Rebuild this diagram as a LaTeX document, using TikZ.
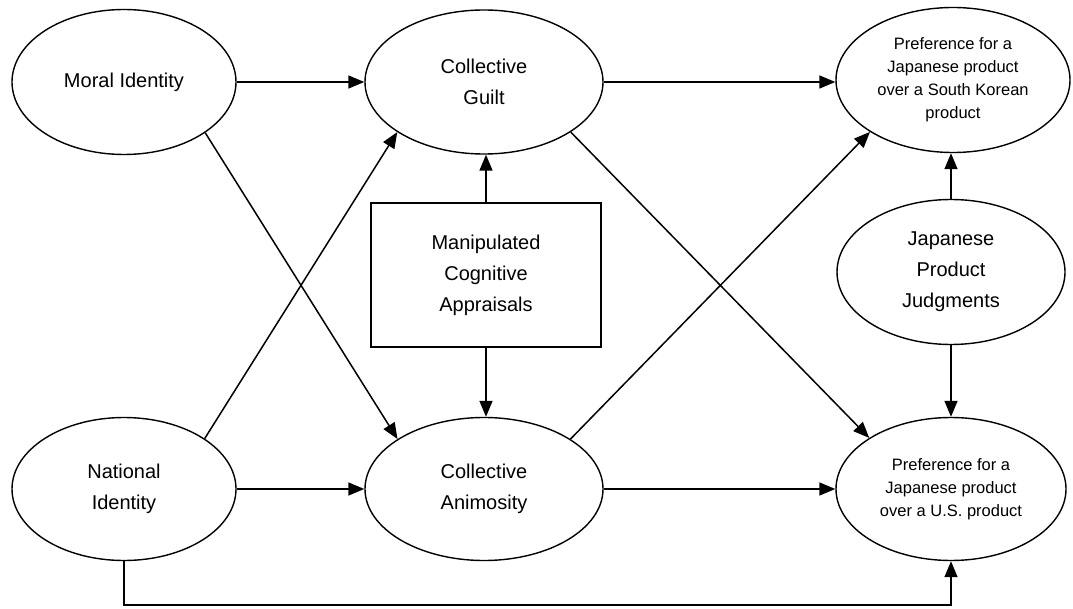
\documentclass[tikz,border=0pt]{standalone}
\usepackage{fontspec}
\setmainfont{Liberation Sans}
\usetikzlibrary{shapes.geometric,arrows.meta}
\begin{document}
\begin{tikzpicture}[x=1pt,y=-1pt,
  var/.style={draw,ellipse,line width=1.4pt,inner sep=0pt,align=center,
    font=\fontsize{20}{31}\selectfont},
  outcome/.style={var,font=\fontsize{16.5}{23}\selectfont},
  manip/.style={draw,rectangle,line width=1.4pt,inner sep=0pt,align=center,
    font=\fontsize{20}{31}\selectfont,minimum width=230pt,minimum height=144pt},
  path/.style={line width=1.5pt,-{Triangle[length=16pt,width=13pt]}}]
\useasboundingbox (0,0) rectangle (1073,609);

% latent variables and outcomes
\node[var,minimum width=224pt,minimum height=145pt] (moral) at (124,82) {Moral Identity};
\node[var,minimum width=238pt,minimum height=144pt] (guilt) at (484,82) {Collective\\Guilt};
\node[outcome,minimum width=234pt,minimum height=145pt] (prefsk) at (953,80) {Preference for a\\Japanese product\\over a South Korean\\product};
\node[var,minimum width=228pt,minimum height=145pt] (judg) at (951,272) {Japanese\\Product\\Judgments};
\node[manip] (manip) at (486,275) {Manipulated\\Cognitive\\Appraisals};
\node[var,minimum width=224pt,minimum height=143pt] (national) at (124,489) {National\\Identity};
\node[var,minimum width=238pt,minimum height=143pt] (anim) at (484,489) {Collective\\Animosity};
\node[outcome,minimum width=230pt,minimum height=143pt] (prefus) at (951,489) {Preference for a\\Japanese product\\over a U.S. product};

% horizontal paths
\draw[path] (moral) -- (guilt);
\draw[path] (guilt) -- (prefsk.west |- guilt);
\draw[path] (national) -- (anim);
\draw[path] (anim) -- (prefus);

% crossing paths
\draw[path] (moral.-32) -- (anim.150);
\draw[path] (national.32) -- (guilt.-150);
\draw[path] (guilt.-30) -- (prefus.148);
\draw[path] (anim.30) -- (prefsk.-148);

% manipulation and product judgments
\draw[path] (manip.north) -- (manip.north |- guilt.south);
\draw[path] (manip.south) -- (manip.south |- anim.north);
\draw[path] (judg.north) -- (prefsk.south -| judg.north);
\draw[path] (judg.south) -- (prefus.north -| judg.south);

% direct path along the bottom
\coordinate (lowleft) at (national.south |- 0,605);
\coordinate (lowright) at (prefus.south |- 0,605);
\draw[path] (national.south) -- (lowleft) -- (lowright) -- (prefus.south);
\end{tikzpicture}
\end{document}
